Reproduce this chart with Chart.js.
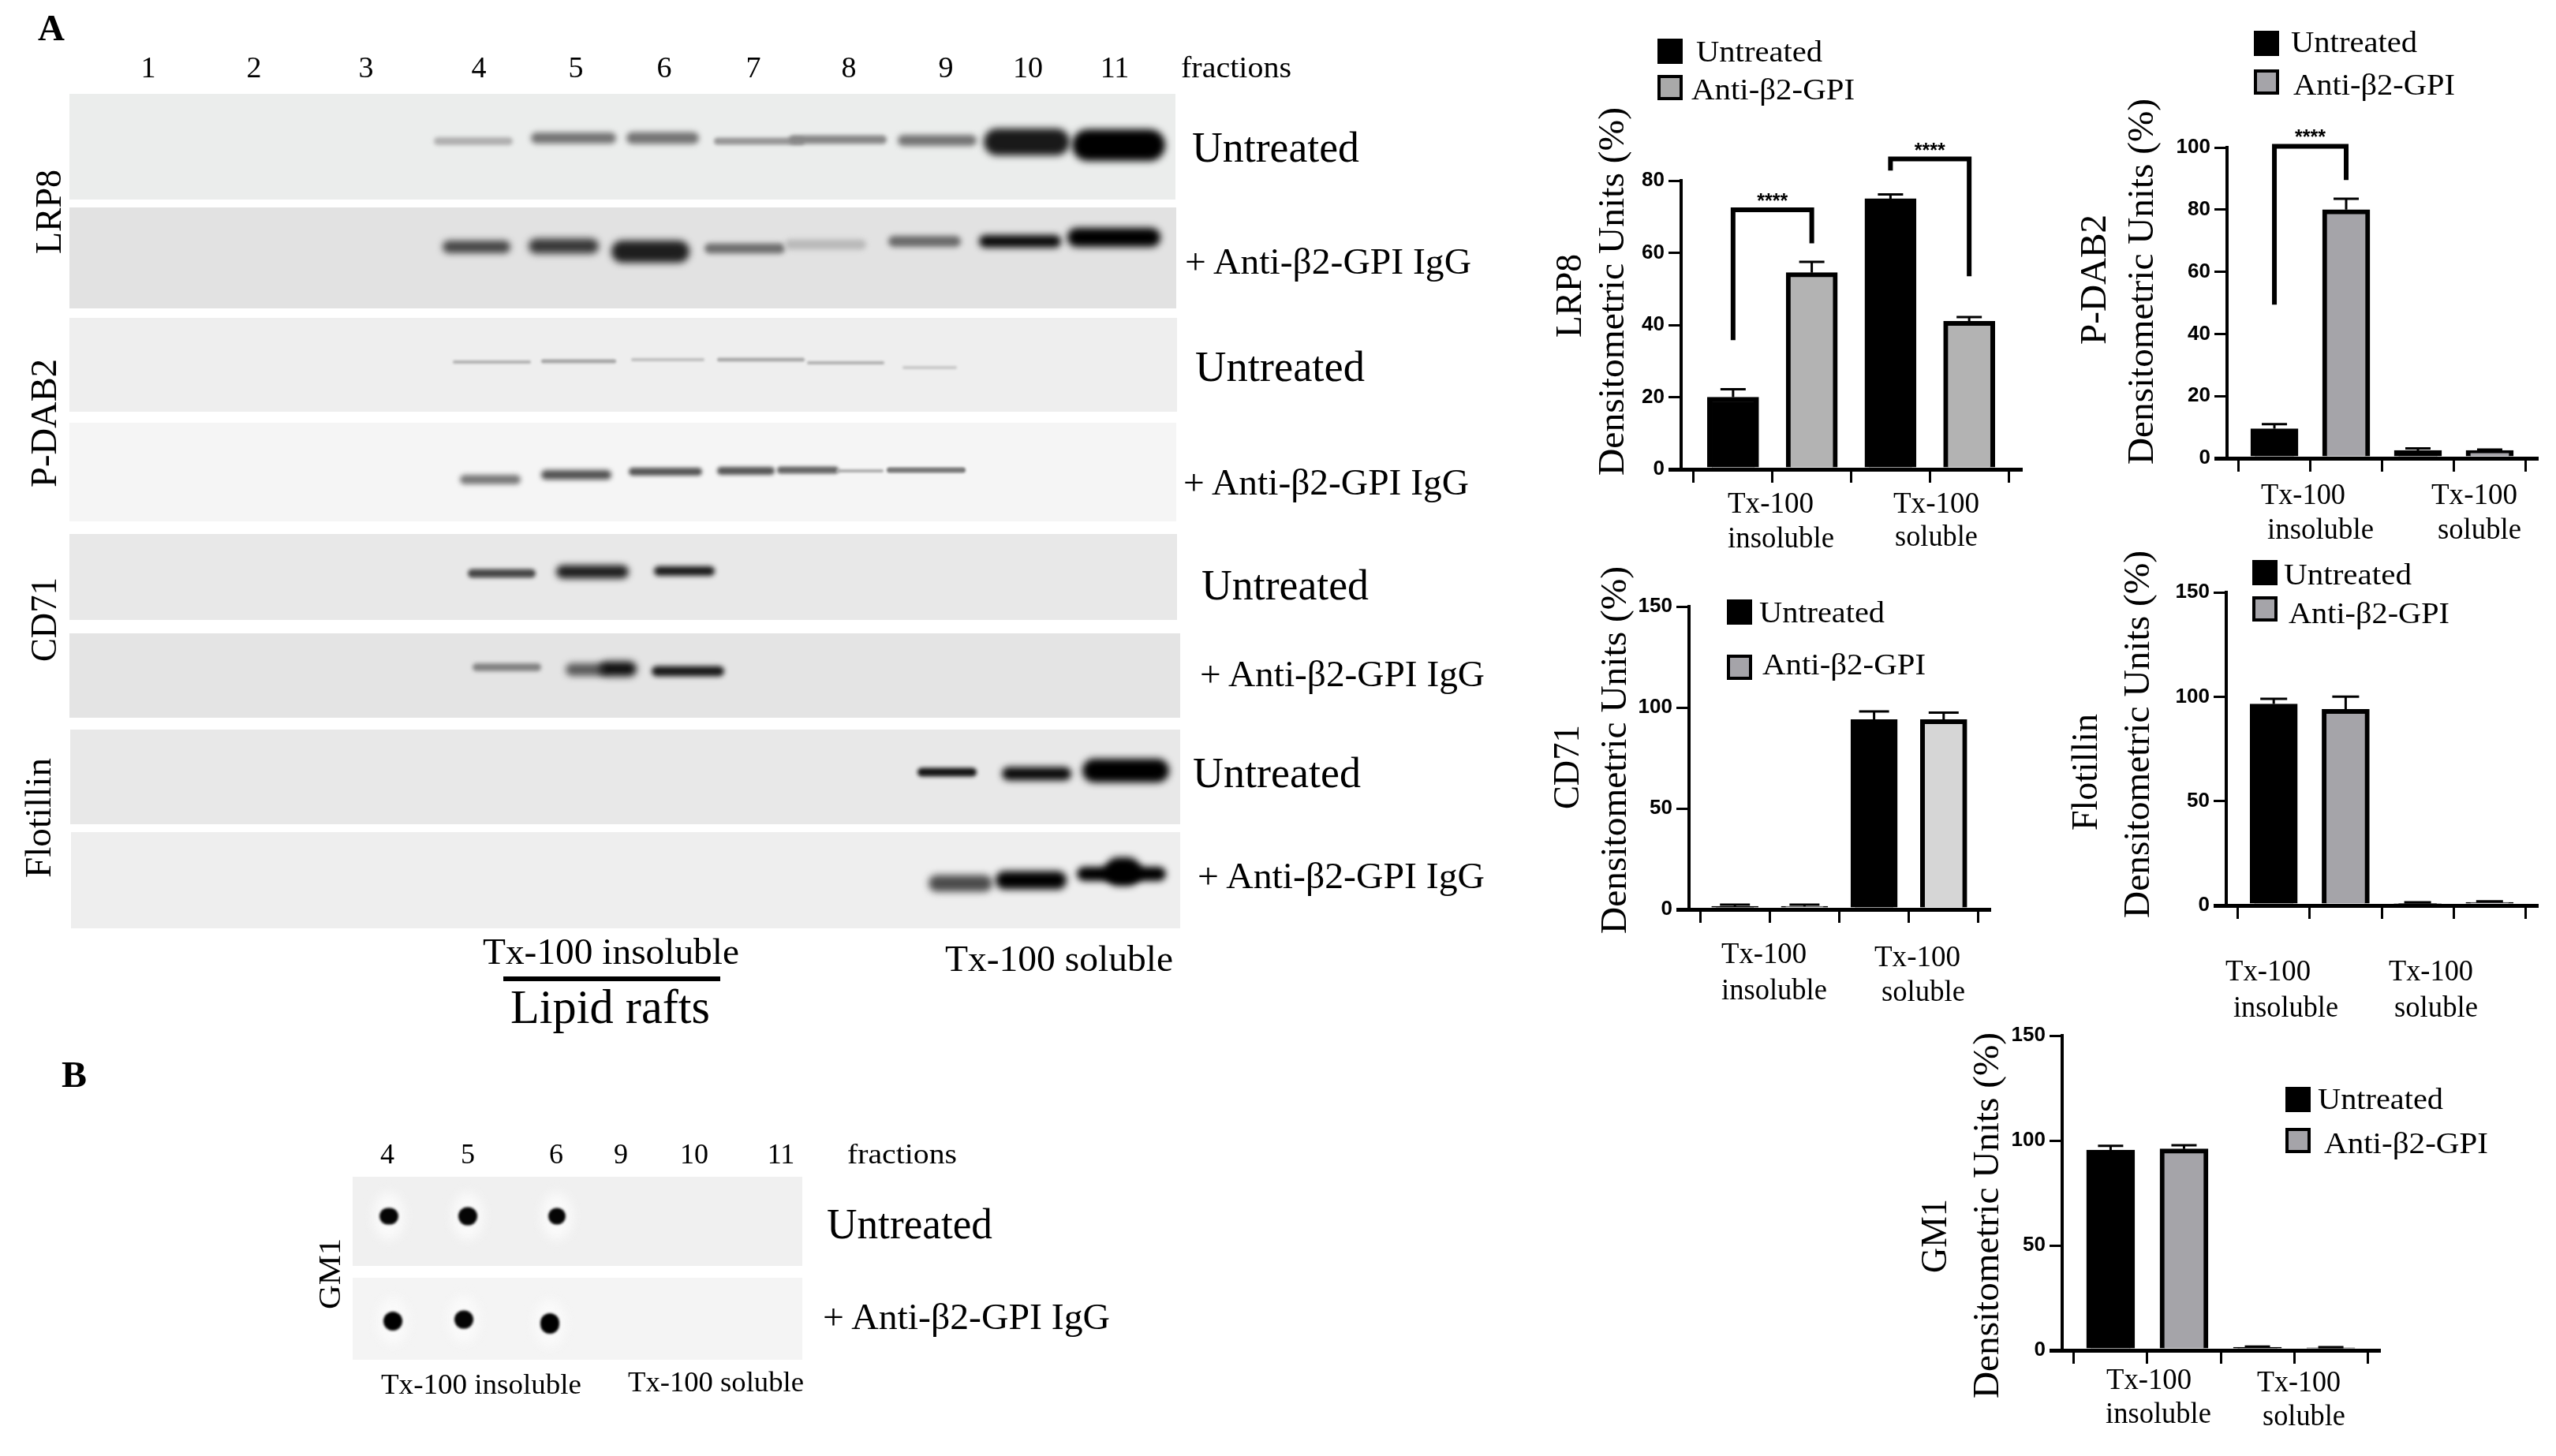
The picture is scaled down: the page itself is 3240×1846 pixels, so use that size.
<!DOCTYPE html>
<html>
<head>
<meta charset="utf-8">
<title>Lipid raft fractions</title>
<script src="https://cdn.jsdelivr.net/npm/chart.js@4"></script>
<style>
    html, body { margin: 0; padding: 0; background: #fff; }
    #page { position: relative; width: 3240px; height: 1846px; overflow: hidden; background: #fff; }
    #page canvas { position: absolute; }
    #labels { position: absolute; left: 0; top: 0; }
</style>
</head>
<body>
<div id="page"></div>
<script>
// Bar chart values
const barLabels = ['Tx-100 insoluble', 'Tx-100 insoluble', 'Tx-100 soluble', 'Tx-100 soluble'];
const untreatedSlots = [0, 2];
const antiSlots = [1, 3];

const lrp8Untreated = [20, 75];
const lrp8Anti = [54.5, 41];
const lrp8UntreatedTop = [22.2, 76.2];
const lrp8AntiTop = [57.5, 42.2];
const lrp8Ticks = [0, 20, 40, 60, 80];
// from, to, left leg end, right leg end, bracket height
const lrp8Brackets = [[0, 1, 35.8, 62.6, 71.9], [2, 3, 82.8, 53.5, 86]];

const dab2Untreated = [9.5, 2.5];
const dab2Anti = [80, 2.5];
const dab2UntreatedTop = [11, 3.2];
const dab2AntiTop = [83.5, 2.8];
const dab2Ticks = [0, 20, 40, 60, 80, 100];
const dab2Brackets = [[0, 1, 49.4, 89.5, 100.4]];

const cd71Untreated = [1.5, 94];
const cd71Anti = [1.5, 94];
const cd71UntreatedTop = [2.3, 98];
const cd71AntiTop = [2.3, 97.5];
const cd71Ticks = [0, 50, 100, 150];

const flotUntreated = [96.5, 1];
const flotAnti = [94, 1.5];
const flotUntreatedTop = [99, 1.5];
const flotAntiTop = [100, 2];
const flotTicks = [0, 50, 100, 150];

const gm1Untreated = [95.5, 1.5];
const gm1Anti = [96, 1.2];
const gm1UntreatedTop = [97.5, 1.8];
const gm1AntiTop = [97.7, 1.5];
const gm1Ticks = [0, 50, 100, 150];

// Blot bands: start, end, centre row, thickness, grey level
const lrp8UntreatedBands = [[550, 650, 179, 10, 175], [673, 781, 175, 14, 115], [794, 886, 175, 15, 115], [905, 1020, 179, 9, 150], [1000, 1124, 177, 11, 135], [1138, 1238, 178, 14, 115], [1247, 1356, 180, 34, 25], [1359, 1477, 184, 40, 0]];
const lrp8AntiBands = [[561, 647, 313, 16, 70], [670, 759, 312, 19, 55], [775, 874, 319, 28, 30], [893, 995, 315, 13, 110], [995, 1098, 310, 13, 185], [1126, 1218, 306, 14, 105], [1241, 1345, 306, 16, 10], [1353, 1471, 301, 24, 0]];
const dab2UntreatedBands = [[574, 673, 459, 4, 175], [686, 781, 458, 5, 165], [800, 893, 456, 4, 190], [909, 1020, 456, 5, 170], [1023, 1121, 460, 4, 175], [1144, 1213, 466, 4, 200]];
const dab2AntiBands = [[583, 660, 608, 12, 120], [686, 775, 602, 12, 80], [797, 890, 598, 10, 85], [909, 982, 597, 10, 85], [985, 1063, 596, 9, 100], [1060, 1120, 597, 4, 170], [1124, 1224, 596, 7, 120]];
const cd71UntreatedBands = [[593, 679, 727, 11, 70], [705, 797, 725, 17, 30], [829, 906, 724, 12, 25]];
const cd71AntiBands = [[599, 686, 846, 10, 130], [717, 770, 849, 16, 90], [760, 807, 848, 19, 15], [826, 918, 851, 13, 25]];
const flotUntreatedBands = [[1163, 1238, 979, 11, 20], [1270, 1358, 981, 17, 10], [1372, 1482, 977, 30, 0]];
const flotAntiBands = [[1177, 1258, 1120, 21, 75], [1262, 1352, 1116, 23, 0], [1365, 1478, 1108, 18, 0], [1400, 1447, 1105, 36, 0]];
const gm1UntreatedSpots = [[481, 505, 1542, 21, 5], [581, 605, 1542, 23, 5], [695, 717, 1542, 21, 5]];
const gm1AntiSpots = [[486, 510, 1675, 24, 0], [576, 600, 1673, 23, 5], [685, 709, 1678, 26, 0]];

// Membrane panels with their background grey
const panels = [
    { x0: 88, x1: 1490, y0: 119, y1: 253, bg: '#ebedec', bands: lrp8UntreatedBands },
    { x0: 88, x1: 1491, y0: 263, y1: 391, bg: '#e2e2e2', bands: lrp8AntiBands },
    { x0: 88, x1: 1492, y0: 403, y1: 522, bg: '#eeeeee', bands: dab2UntreatedBands },
    { x0: 88, x1: 1491, y0: 536, y1: 661, bg: '#f5f5f5', bands: dab2AntiBands },
    { x0: 88, x1: 1492, y0: 677, y1: 786, bg: '#e8e8e8', bands: cd71UntreatedBands },
    { x0: 88, x1: 1496, y0: 803, y1: 910, bg: '#e4e4e4', bands: cd71AntiBands },
    { x0: 89, x1: 1496, y0: 925, y1: 1045, bg: '#e8e8e8', bands: flotUntreatedBands },
    { x0: 90, x1: 1496, y0: 1055, y1: 1177, bg: '#eeeeee', bands: flotAntiBands },
    { x0: 447, x1: 1017, y0: 1492, y1: 1605, bg: '#f0f0f0', bands: gm1UntreatedSpots, halo: true },
    { x0: 447, x1: 1017, y0: 1620, y1: 1724, bg: '#f4f4f4', bands: gm1AntiSpots, halo: true }
];

const page = document.getElementById('page');

function addCanvas(left, top, width, height) {
    const canvas = document.createElement('canvas');
    canvas.width = width;
    canvas.height = height;
    canvas.style.left = left + 'px';
    canvas.style.top = top + 'px';
    canvas.style.width = width + 'px';
    canvas.style.height = height + 'px';
    page.appendChild(canvas);
    return canvas;
}

// Panels and bands go through the scales of a hidden-axis scatter chart
const blotPlugin = {
    id: 'blots',
    beforeDatasetsDraw(chart) {
        const ctx = chart.ctx;
        const sx = chart.scales.x;
        const sy = chart.scales.y;
        ctx.save();
        panels.forEach(p => {
            ctx.fillStyle = p.bg;
            ctx.fillRect(sx.getPixelForValue(p.x0), sy.getPixelForValue(p.y0),
                sx.getPixelForValue(p.x1) - sx.getPixelForValue(p.x0),
                sy.getPixelForValue(p.y1) - sy.getPixelForValue(p.y0));
        });
        panels.forEach(p => {
            p.bands.forEach(b => {
                const left = sx.getPixelForValue(b[0]);
                const right = sx.getPixelForValue(b[1]);
                const mid = sy.getPixelForValue(b[2]);
                const h = b[3];
                if (p.halo) {
                    ctx.filter = 'blur(7px)';
                    ctx.fillStyle = '#fafafa';
                    ctx.beginPath();
                    ctx.ellipse((left + right) / 2, mid, 20, 30, 0, 0, Math.PI * 2);
                    ctx.fill();
                }
                ctx.filter = 'blur(' + (p.halo ? 1.5 : Math.max(1.4, Math.min(h * 0.25, 5))) + 'px)';
                ctx.fillStyle = 'rgb(' + b[4] + ',' + b[4] + ',' + b[4] + ')';
                ctx.beginPath();
                ctx.roundRect(left, mid - h / 2, right - left, h, Math.min(h, right - left) / 2);
                ctx.fill();
            });
        });
        ctx.restore();
    }
};

new Chart(addCanvas(0, 0, 1500, 1846), {
    type: 'scatter',
    data: {
        datasets: panels.map(p => ({
            data: p.bands.map(b => ({ x: (b[0] + b[1]) / 2, y: b[2] })),
            pointRadius: 0
        }))
    },
    options: {
        responsive: false,
        animation: false,
        events: [],
        layout: { autoPadding: false },
        plugins: { legend: { display: false }, tooltip: { enabled: false } },
        scales: {
            x: { type: 'linear', display: false, min: 0, max: 1500 },
            y: { type: 'linear', display: false, min: 0, max: 1846, reverse: true }
        }
    },
    plugins: [blotPlugin]
});

// Error bars and significance brackets, positioned through the chart scales
const markPlugin = {
    id: 'marks',
    afterDatasetsDraw(chart) {
        const ctx = chart.ctx;
        const sx = chart.scales.x;
        const sy = chart.scales.y;
        ctx.save();
        ctx.strokeStyle = '#000';
        chart.data.datasets.forEach((ds, i) => {
            chart.getDatasetMeta(i).data.forEach((bar, j) => {
                const top = sy.getPixelForValue(ds.errTop[j]);
                const cap = chart.options.plugins.marks.cap / 2;
                ctx.lineWidth = 3;
                ctx.beginPath();
                ctx.moveTo(bar.x, bar.y);
                ctx.lineTo(bar.x, top);
                ctx.moveTo(bar.x - cap, top);
                ctx.lineTo(bar.x + cap, top);
                ctx.stroke();
            });
        });
        (chart.options.plugins.marks.brackets || []).forEach(b => {
            const x0 = sx.getPixelForValue(b[0]);
            const x1 = sx.getPixelForValue(b[1]);
            const top = sy.getPixelForValue(b[4]);
            ctx.lineWidth = 6;
            ctx.lineJoin = 'miter';
            ctx.beginPath();
            ctx.moveTo(x0, sy.getPixelForValue(b[2]));
            ctx.lineTo(x0, top);
            ctx.lineTo(x1, top);
            ctx.lineTo(x1, sy.getPixelForValue(b[3]));
            ctx.stroke();
            ctx.fillStyle = '#000';
            ctx.font = 'bold 25px "Liberation Sans"';
            ctx.textAlign = 'center';
            ctx.textBaseline = 'alphabetic';
            ctx.fillText('****', (x0 + x1) / 2, top - 3);
        });
        ctx.restore();
    }
};

function barChart(box, opt) {
    // box: axis x, axis right end, pixel row of the top tick and of zero
    const left = box.axis - 90;
    const top = box.top - 70;
    const bottom = box.zero + 30;
    const canvas = addCanvas(left, top, box.right - left + 4, bottom - top);
    return new Chart(canvas, {
        type: 'bar',
        data: {
            labels: barLabels,
            datasets: [
                {
                    label: 'Untreated',
                    data: untreatedSlots.map((s, i) => ({ x: s, y: opt.untreated[i] })),
                    errTop: opt.untreatedTop,
                    backgroundColor: '#000',
                    borderColor: '#000',
                    borderWidth: 6,
                    borderSkipped: 'start',
                    barThickness: opt.barWidth,
                    grouped: false
                },
                {
                    label: 'Anti-β2-GPI',
                    data: antiSlots.map((s, i) => ({ x: s, y: opt.anti[i] })),
                    errTop: opt.antiTop,
                    backgroundColor: opt.grey,
                    borderColor: '#000',
                    borderWidth: 6,
                    borderSkipped: 'start',
                    barThickness: opt.barWidth,
                    grouped: false
                }
            ]
        },
        options: {
            responsive: false,
            animation: false,
            events: [],
            layout: { autoPadding: false, padding: { top: 70, right: 4, left: 0, bottom: 0 } },
            plugins: {
                legend: { display: false },
                tooltip: { enabled: false },
                marks: { brackets: opt.brackets, cap: opt.cap }
            },
            scales: {
                x: {
                    type: 'linear',
                    offset: false,
                    min: -0.66,
                    max: 3.66,
                    afterBuildTicks(scale) { scale.ticks = [0, 1, 2, 3].map(v => ({ value: v })); },
                    afterFit(scale) { scale.height = 30; },
                    border: { color: '#000', width: 5 },
                    grid: { drawOnChartArea: false, color: '#000', lineWidth: 3, tickLength: 17 },
                    ticks: { display: false, autoSkip: false }
                },
                y: {
                    min: 0,
                    max: opt.ticks[opt.ticks.length - 1],
                    afterBuildTicks(scale) { scale.ticks = opt.ticks.map(v => ({ value: v })); },
                    afterFit(scale) { scale.width = 90; },
                    border: { color: '#000', width: 4 },
                    grid: {
                        drawOnChartArea: false,
                        color: '#000',
                        lineWidth: c => (c.tick && c.tick.value === 0 ? 5 : 3),
                        tickLength: 16
                    },
                    ticks: {
                        color: '#000',
                        padding: 5,
                        autoSkip: false,
                        font: { family: '"Liberation Sans"', weight: 'bold', size: 26 }
                    }
                }
            }
        },
        plugins: [markPlugin]
    });
}

barChart({ axis: 2131, right: 2562, top: 229, zero: 595 }, {
    untreated: lrp8Untreated, anti: lrp8Anti, untreatedTop: lrp8UntreatedTop, antiTop: lrp8AntiTop,
    ticks: lrp8Ticks, brackets: lrp8Brackets, grey: '#b3b3b3', barWidth: 65, cap: 32
});
barChart({ axis: 2823, right: 3216, top: 187, zero: 581 }, {
    untreated: dab2Untreated, anti: dab2Anti, untreatedTop: dab2UntreatedTop, antiTop: dab2AntiTop,
    ticks: dab2Ticks, brackets: dab2Brackets, grey: '#a5a4a9', barWidth: 60, cap: 32
});
barChart({ axis: 2141, right: 2522, top: 769, zero: 1153 }, {
    untreated: cd71Untreated, anti: cd71Anti, untreatedTop: cd71UntreatedTop, antiTop: cd71AntiTop,
    ticks: cd71Ticks, grey: '#d6d6d6', barWidth: 59, cap: 38
});
barChart({ axis: 2822, right: 3216, top: 751, zero: 1148 }, {
    untreated: flotUntreated, anti: flotAnti, untreatedTop: flotUntreatedTop, antiTop: flotAntiTop,
    ticks: flotTicks, grey: '#a5a4a9', barWidth: 60, cap: 34
});
barChart({ axis: 2614, right: 3016, top: 1313, zero: 1712 }, {
    untreated: gm1Untreated, anti: gm1Anti, untreatedTop: gm1UntreatedTop, antiTop: gm1AntiTop,
    ticks: gm1Ticks, grey: '#a5a4a9', barWidth: 61, cap: 32
});

// Text and legend keys sit in one svg on top of the canvases
const svgNS = 'http://www.w3.org/2000/svg';
const svg = document.createElementNS(svgNS, 'svg');
svg.setAttribute('id', 'labels');
svg.setAttribute('width', 3240);
svg.setAttribute('height', 1846);
page.appendChild(svg);

// len stretches the text to the measured length, baseline is at (x, y)
function put(text, x, y, size, len, opt) {
    opt = opt || {};
    const t = document.createElementNS(svgNS, 'text');
    t.textContent = text;
    t.setAttribute('x', x);
    t.setAttribute('y', y);
    t.setAttribute('font-family', 'Liberation Serif');
    t.setAttribute('font-size', size);
    t.setAttribute('fill', '#000');
    if (opt.bold) t.setAttribute('font-weight', 'bold');
    if (opt.middle) t.setAttribute('text-anchor', 'middle');
    if (len) {
        t.setAttribute('textLength', len);
        t.setAttribute('lengthAdjust', 'spacingAndGlyphs');
    }
    if (opt.up) t.setAttribute('transform', 'rotate(-90 ' + x + ' ' + y + ')');
    svg.appendChild(t);
}

function key(x, y, fill) {
    const r = document.createElementNS(svgNS, 'rect');
    r.setAttribute('x', x + 2);
    r.setAttribute('y', y + 2);
    r.setAttribute('width', 28);
    r.setAttribute('height', 28);
    r.setAttribute('fill', fill);
    r.setAttribute('stroke', '#000');
    r.setAttribute('stroke-width', 4);
    svg.appendChild(r);
}

const laneNumbers = [['1', 188], ['2', 322], ['3', 464], ['4', 607], ['5', 730], ['6', 842], ['7', 955], ['8', 1076], ['9', 1199], ['10', 1303], ['11', 1413]];
const dotLaneNumbers = [['4', 491], ['5', 593], ['6', 705], ['9', 787], ['10', 880], ['11', 990]];

put('A', 48, 51, 47, 0, { bold: true });
put('B', 78, 1378, 46, 32, { bold: true });
laneNumbers.forEach(n => put(n[0], n[1], 98, 38, 0, { middle: true }));
dotLaneNumbers.forEach(n => put(n[0], n[1], 1475, 36, 0, { middle: true }));
put('fractions', 1497, 98, 38, 140);
put('fractions', 1074, 1475, 36, 139);

put('Untreated', 1511, 205, 54, 212);
put('+ Anti-β2-GPI IgG', 1502, 347, 46, 363);
put('Untreated', 1515, 483, 54, 215);
put('+ Anti-β2-GPI IgG', 1500, 627, 46, 362);
put('Untreated', 1523, 760, 54, 212);
put('+ Anti-β2-GPI IgG', 1521, 870, 46, 361);
put('Untreated', 1512, 998, 54, 213);
put('+ Anti-β2-GPI IgG', 1518, 1126, 46, 364);
put('Untreated', 1048, 1570, 54, 210);
put('+ Anti-β2-GPI IgG', 1043, 1685, 46, 364);

put('LRP8', 77, 322, 46, 107, { up: true });
put('P-DAB2', 71, 618, 46, 163, { up: true });
put('CD71', 71, 839, 46, 107, { up: true });
put('Flotillin', 64, 1113, 46, 152, { up: true });
put('GM1', 431, 1660, 41, 90, { up: true });

put('Tx-100 insoluble', 612, 1222, 46, 325);
put('Lipid rafts', 647, 1297, 62, 253);
put('Tx-100 soluble', 1198, 1231, 46, 289);
put('Tx-100 insoluble', 483, 1767, 36, 254);
put('Tx-100 soluble', 796, 1764, 36, 223);

const rule = document.createElementNS(svgNS, 'rect');
rule.setAttribute('x', 638);
rule.setAttribute('y', 1238);
rule.setAttribute('width', 275);
rule.setAttribute('height', 6);
rule.setAttribute('fill', '#000');
svg.appendChild(rule);

// Axis titles
put('LRP8', 2004, 428, 46, 106, { up: true });
put('Densitometric Units (%)', 2058, 603, 47, 467, { up: true });
put('P-DAB2', 2669, 437, 46, 165, { up: true });
put('Densitometric Units (%)', 2729, 589, 47, 464, { up: true });
put('CD71', 2001, 1026, 46, 107, { up: true });
put('Densitometric Units (%)', 2061, 1184, 47, 466, { up: true });
put('Flotillin', 2658, 1053, 46, 148, { up: true });
put('Densitometric Units (%)', 2724, 1164, 47, 466, { up: true });
put('GM1', 2467, 1614, 46, 94, { up: true });
put('Densitometric Units (%)', 2533, 1773, 47, 464, { up: true });

// Group labels under the bars
put('Tx-100', 2190, 650, 38, 109);
put('insoluble', 2190, 694, 38, 135);
put('Tx-100', 2400, 650, 38, 109);
put('soluble', 2402, 692, 38, 105);
put('Tx-100', 2866, 639, 38, 107);
put('insoluble', 2874, 683, 38, 135);
put('Tx-100', 3082, 639, 38, 109);
put('soluble', 3090, 683, 38, 106);
put('Tx-100', 2182, 1221, 38, 108);
put('insoluble', 2182, 1267, 38, 134);
put('Tx-100', 2376, 1225, 38, 109);
put('soluble', 2385, 1269, 38, 106);
put('Tx-100', 2821, 1243, 38, 108);
put('insoluble', 2831, 1289, 38, 133);
put('Tx-100', 3028, 1243, 38, 107);
put('soluble', 3035, 1289, 38, 106);
put('Tx-100', 2670, 1761, 38, 108);
put('insoluble', 2669, 1804, 38, 134);
put('Tx-100', 2861, 1764, 38, 106);
put('soluble', 2868, 1807, 38, 105);

// Legends
key(2101, 49, '#000'); put('Untreated', 2150, 78, 38, 160);
key(2101, 95, '#a9a9a9'); put('Anti-β2-GPI', 2144, 126, 38, 207);
key(2857, 39, '#000'); put('Untreated', 2904, 66, 38, 160);
key(2857, 88, '#a5a4a9'); put('Anti-β2-GPI', 2907, 120, 38, 205);
key(2189, 760, '#000'); put('Untreated', 2230, 789, 38, 159);
key(2189, 830, '#a5a4a9'); put('Anti-β2-GPI', 2234, 855, 38, 207);
key(2855, 710, '#000'); put('Untreated', 2895, 741, 38, 162);
key(2855, 756, '#a5a4a9'); put('Anti-β2-GPI', 2901, 790, 38, 204);
key(2897, 1378, '#000'); put('Untreated', 2938, 1406, 38, 159);
key(2897, 1430, '#a5a4a9'); put('Anti-β2-GPI', 2946, 1462, 38, 208);
</script>
</body>
</html>
